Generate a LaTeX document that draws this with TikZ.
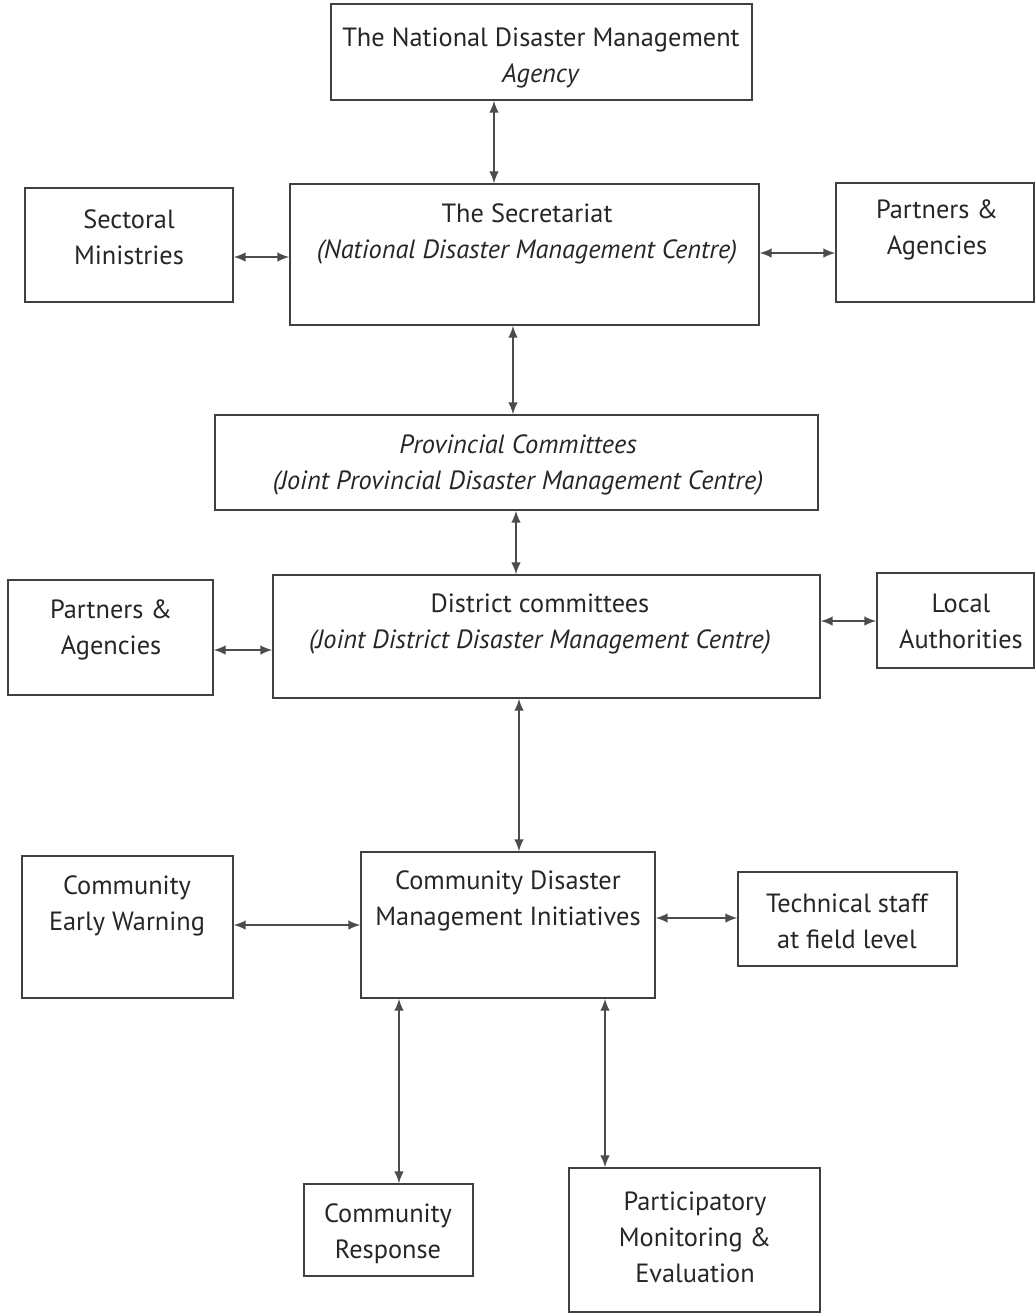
\documentclass[tikz,border=0pt]{standalone}
\usepackage{fontspec}
\setmainfont{PT Sans}
\usetikzlibrary{arrows.meta,fit}

\tikzset{
box/.style={draw=black!75, line width=0.8pt, inner sep=0pt, fit={#1}},
lbl/.style={align=center, font=\fontsize{15}{20.5}\selectfont, text=black!85},
link/.style={draw=black!70, line width=0.9pt, {Latex[length=2.4mm,width=1.9mm]}-{Latex[length=2.4mm,width=1.9mm]}}
}

\begin{document}
\begin{tikzpicture}[x=0.02cm, y=-0.02cm]
\useasboundingbox (0,0) rectangle (1035,1313);

% national level
\node[box={(331,4) (752,100)}] (agency) {};
\node[lbl] at (541,58) {The National Disaster Management\\\textit{Agency}};

\node[box={(290,184) (759,325)}] (secr) {};
\node[lbl] at (527,234) {The Secretariat\\\textit{(National Disaster Management Centre)}};

\node[box={(25,188) (233,302)}] (minist) {};
\node[lbl] at (129,237) {Sectoral\\Ministries};

\node[box={(836,183) (1034,302)}] (partnersN) {};
\node[lbl] at (937,230) {Partners \&\\Agencies};

% provincial and district level
\node[box={(215,415) (818,510)}] (prov) {};
\node[lbl] at (518,465) {\textit{Provincial Committees}\\\textit{(Joint Provincial Disaster Management Centre)}};

\node[box={(273,575) (820,698)}] (distr) {};
\node[lbl] at (540,624) {District committees\\\textit{(Joint District Disaster Management Centre)}};

\node[box={(8,580) (213,695)}] (partnersD) {};
\node[lbl] at (111,630) {Partners \&\\Agencies};

\node[box={(877,573) (1034,668)}] (local) {};
\node[lbl] at (961,621) {Local\\Authorities};

% community level
\node[box={(361,852) (655,998)}] (cdmi) {};
\node[lbl] at (508,901) {Community Disaster\\Management Initiatives};

\node[box={(22,856) (233,998)}] (warn) {};
\node[lbl] at (127,906) {Community\\Early Warning};

\node[box={(738,872) (957,966)}] (tech) {};
\node[lbl] at (847,921) {Technical staff\\at field level};

\node[box={(304,1184) (473,1276)}] (resp) {};
\node[lbl] at (388,1234) {Community\\Response};

\node[box={(569,1168) (820,1312)}] (pme) {};
\node[lbl] at (695,1237) {Participatory\\Monitoring \&\\Evaluation};

% connectors
\draw[link] (agency.south -| 494,0) -- (secr.north -| 494,0);
\draw[link] (minist.east |- 0,257) -- (secr.west |- 0,257);
\draw[link] (secr.east |- 0,253) -- (partnersN.west |- 0,253);
\draw[link] (secr.south -| 513,0) -- (prov.north -| 513,0);
\draw[link] (prov.south -| 516,0) -- (distr.north -| 516,0);
\draw[link] (partnersD.east |- 0,650) -- (distr.west |- 0,650);
\draw[link] (distr.east |- 0,621) -- (local.west |- 0,621);
\draw[link] (distr.south -| 519,0) -- (cdmi.north -| 519,0);
\draw[link] (warn.east |- 0,925) -- (cdmi.west |- 0,925);
\draw[link] (cdmi.east |- 0,918) -- (tech.west |- 0,918);
\draw[link] (cdmi.south -| 399,0) -- (resp.north -| 399,0);
\draw[link] (cdmi.south -| 605,0) -- (pme.north -| 605,0);
\end{tikzpicture}
\end{document}
